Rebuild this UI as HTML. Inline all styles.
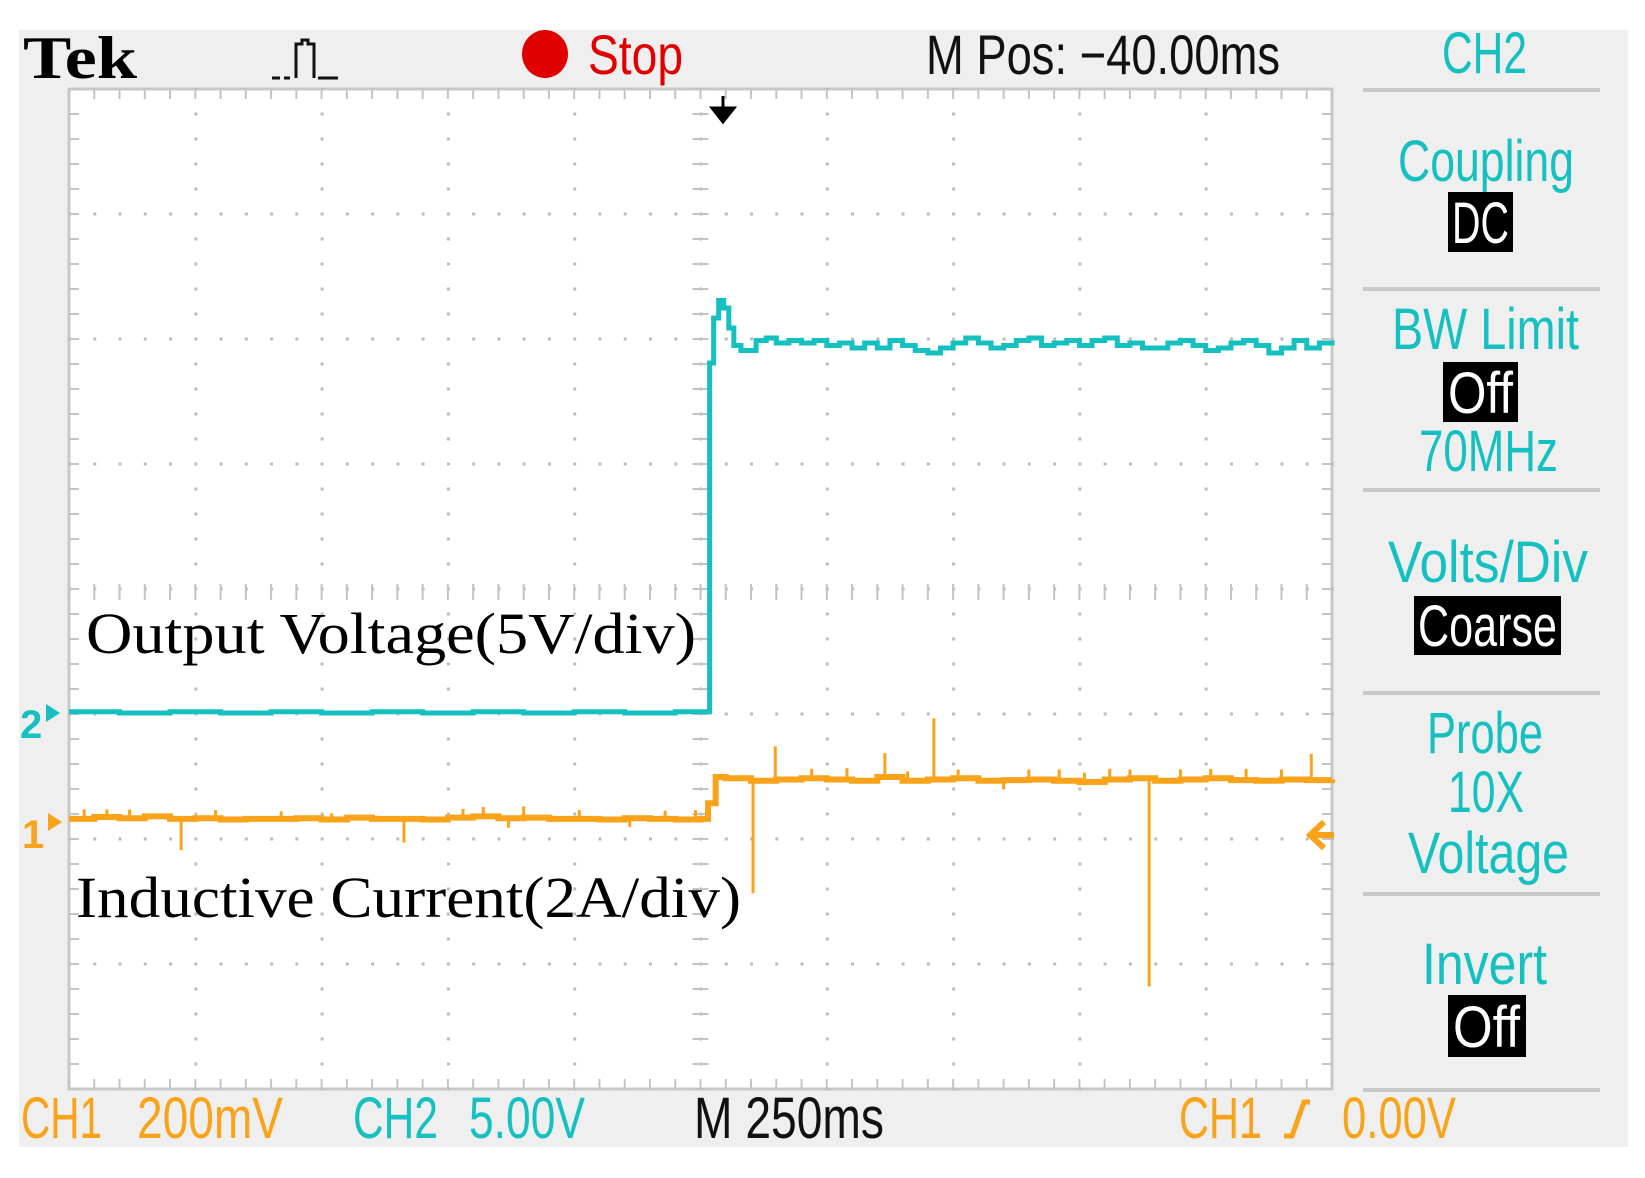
<!DOCTYPE html>
<html><head><meta charset="utf-8"><style>
html,body{margin:0;padding:0;background:#fff;}
svg{display:block;}
.t{font-family:"Liberation Sans",sans-serif;}
</style></head><body>
<svg id="scope" width="1645" height="1178" viewBox="0 0 1645 1178" xmlns="http://www.w3.org/2000/svg">
<rect x="19" y="30" width="1609" height="1117" fill="#efefef"/>
<rect x="69" y="89" width="1263" height="1000" fill="#fff" stroke="#c8c8c8" stroke-width="3"/>
<g id="grid"></g>
<g id="traces"></g>
<text x="23" y="78" font-family="Liberation Serif,serif" font-weight="bold" font-size="60" textLength="114" lengthAdjust="spacingAndGlyphs">Tek</text>
<path d="M272 78 h8 M284 78 h6 M296 78 v-34 h6 v-4 h6 v4 h6 v34 M318 78 h20" stroke="#111" stroke-width="3" fill="none"/>
<ellipse cx="545" cy="54" rx="23" ry="24" fill="#e00000"/>
<text class="t" x="588" y="74" font-size="56" fill="#e00000" textLength="95" lengthAdjust="spacingAndGlyphs">Stop</text>
<text class="t" x="926" y="74" font-size="56" fill="#111" textLength="354" lengthAdjust="spacingAndGlyphs">M Pos: −40.00ms</text>
<path d="M723 96 v18 M712 108 l11 14 l11 -14 z" stroke="#000" stroke-width="3" fill="#000"/>
<g id="panel">
<g stroke="#c8c8c8" stroke-width="4">
<line x1="1363" x2="1600" y1="90" y2="90"/><line x1="1363" x2="1600" y1="289" y2="289"/><line x1="1363" x2="1600" y1="490" y2="490"/><line x1="1363" x2="1600" y1="693" y2="693"/><line x1="1363" x2="1600" y1="894" y2="894"/><line x1="1363" x2="1600" y1="1090" y2="1090"/>
</g>
<text class="t" x="1442" y="73" font-size="58" fill="#14c0c0" textLength="85" lengthAdjust="spacingAndGlyphs">CH2</text>
<text class="t" x="1398" y="181" font-size="58" fill="#14c0c0" textLength="176" lengthAdjust="spacingAndGlyphs">Coupling</text>
<rect x="1448" y="192" width="65" height="60" fill="#000"/>
<text class="t" x="1452" y="243" font-size="58" fill="#fff" textLength="57" lengthAdjust="spacingAndGlyphs">DC</text>
<text class="t" x="1392" y="349" font-size="58" fill="#14c0c0" textLength="187" lengthAdjust="spacingAndGlyphs">BW Limit</text>
<rect x="1443" y="362" width="75" height="60" fill="#000"/>
<text class="t" x="1448" y="413" font-size="58" fill="#fff" textLength="65" lengthAdjust="spacingAndGlyphs">Off</text>
<text class="t" x="1419" y="471" font-size="58" fill="#14c0c0" textLength="139" lengthAdjust="spacingAndGlyphs">70MHz</text>
<text class="t" x="1388" y="582" font-size="58" fill="#14c0c0" textLength="200" lengthAdjust="spacingAndGlyphs">Volts/Div</text>
<rect x="1414" y="596" width="147" height="59" fill="#000"/>
<text class="t" x="1418" y="646" font-size="58" fill="#fff" textLength="139" lengthAdjust="spacingAndGlyphs">Coarse</text>
<text class="t" x="1427" y="753" font-size="58" fill="#14c0c0" textLength="116" lengthAdjust="spacingAndGlyphs">Probe</text>
<text class="t" x="1448" y="812" font-size="58" fill="#14c0c0" textLength="76" lengthAdjust="spacingAndGlyphs">10X</text>
<text class="t" x="1408" y="873" font-size="58" fill="#14c0c0" textLength="161" lengthAdjust="spacingAndGlyphs">Voltage</text>
<text class="t" x="1422" y="984" font-size="58" fill="#14c0c0" textLength="125" lengthAdjust="spacingAndGlyphs">Invert</text>
<rect x="1448" y="995" width="78" height="62" fill="#000"/>
<text class="t" x="1453" y="1047" font-size="58" fill="#fff" textLength="67" lengthAdjust="spacingAndGlyphs">Off</text>
</g>
<g>
<text class="t" x="21" y="1138" font-size="58" fill="#f9a31a" textLength="81" lengthAdjust="spacingAndGlyphs">CH1</text>
<text class="t" x="137" y="1138" font-size="58" fill="#f9a31a" textLength="146" lengthAdjust="spacingAndGlyphs">200mV</text>
<text class="t" x="353" y="1138" font-size="58" fill="#14c0c0" textLength="85" lengthAdjust="spacingAndGlyphs">CH2</text>
<text class="t" x="469" y="1138" font-size="58" fill="#14c0c0" textLength="116" lengthAdjust="spacingAndGlyphs">5.00V</text>
<text class="t" x="694" y="1138" font-size="58" fill="#111" textLength="190" lengthAdjust="spacingAndGlyphs">M 250ms</text>
<text class="t" x="1179" y="1138" font-size="58" fill="#f9a31a" textLength="83" lengthAdjust="spacingAndGlyphs">CH1</text>
<path d="M1284 1136 h8 l12 -34 h6" stroke="#f9a31a" stroke-width="5" fill="none"/>
<text class="t" x="1342" y="1138" font-size="58" fill="#f9a31a" textLength="114" lengthAdjust="spacingAndGlyphs">0.00V</text>
</g>
<text x="86" y="653" font-family="Liberation Serif,serif" font-size="58" fill="#000" textLength="610" lengthAdjust="spacingAndGlyphs">Output Voltage(5V/div)</text>
<text x="76" y="917" font-family="Liberation Serif,serif" font-size="58" fill="#000" textLength="665" lengthAdjust="spacingAndGlyphs">Inductive Current(2A/div)</text>
<text class="t" x="20" y="738" font-size="40" font-weight="bold" fill="#14c0c0">2</text>
<path d="M46 704 l14 9 l-14 9 z" fill="#14c0c0"/>
<text class="t" x="22" y="848" font-size="40" font-weight="bold" fill="#f9a31a">1</text>
<path d="M48 813 l14 9 l-14 9 z" fill="#f9a31a"/>
<path d="M1334 835 h-22 M1324 822 l-14 13 l14 13" stroke="#f9a31a" stroke-width="6" fill="none"/>
</svg>
<script>
// time in ms (250 ms/div, 10 div), cyan volts (5 V/div), orange amps (2 A/div)
const ch2Times = [0,100,200,300,400,500,600,700,800,900,1000,1100,1200,1262,1268,1276,1286,1296,1306,1316,1330,1345,1360,1380,1400,1425,1450,1475,1500,1525,1550,1575,1600,1625,1650,1675,1700,1725,1750,1775,1800,1825,1850,1875,1900,1925,1950,1975,2000,2025,2050,2075,2100,2125,2150,2175,2200,2225,2250,2275,2300,2325,2350,2375,2400,2425,2450,2475,2500];
const ch2Volts = [0.05,0.0,0.05,0.0,0.05,0.0,0.05,0.0,0.05,0.0,0.05,0.0,0.05,0.05,14.0,15.8,16.5,16.2,15.4,14.7,14.5,14.5,14.9,15.0,14.8,14.9,14.8,14.9,14.7,14.8,14.6,14.8,14.6,14.9,14.7,14.5,14.4,14.6,14.8,15.0,14.8,14.6,14.7,14.9,15.0,14.7,14.8,14.9,14.7,14.9,15.0,14.7,14.8,14.6,14.6,14.8,14.9,14.7,14.5,14.6,14.8,14.9,14.7,14.4,14.6,14.9,14.6,14.8,14.7];
const ch1Times = [0,50,100,150,200,250,300,350,400,450,500,550,600,650,700,750,800,850,900,950,1000,1050,1100,1150,1200,1250,1265,1280,1300,1350,1400,1450,1500,1550,1600,1650,1700,1750,1800,1850,1900,1950,2000,2050,2100,2150,2200,2250,2300,2350,2400,2450,2500];
const ch1Amps = [0.05,0.08,0.06,0.09,0.05,0.06,0.04,0.05,0.05,0.06,0.04,0.07,0.05,0.05,0.04,0.07,0.09,0.06,0.07,0.05,0.05,0.04,0.06,0.05,0.04,0.05,0.3,0.72,0.70,0.66,0.68,0.7,0.68,0.66,0.72,0.66,0.68,0.7,0.66,0.67,0.68,0.66,0.64,0.68,0.70,0.66,0.68,0.70,0.67,0.66,0.68,0.67,0.68];
const spikeTimes = [30,75,120,222,290,420,520,663,780,820,870,900,1010,1110,1180,1240,1354,1398,1470,1540,1615,1660,1712,1760,1850,1900,1960,2010,2060,2100,2138,2200,2260,2330,2400,2459];
const spikeAmps = [0.15,0.12,0.14,-0.5,0.13,0.12,0.1,-0.38,0.14,0.15,-0.15,0.18,0.14,-0.14,0.13,0.15,-1.8,0.55,0.15,0.18,0.38,0.15,0.98,0.14,-0.15,0.16,0.18,0.15,0.17,0.14,-3.33,0.16,0.15,0.18,0.16,0.42];
const ch2Offset = 713, ch1Offset = 822;
const X0 = 69, X1 = 1332, TOTAL = 2500, DIV = 125;
const xs = t => X0 + (X1 - X0) * t / TOTAL;
const yV = v => ch2Offset - v / 5 * DIV;
const yA = a => ch1Offset - a / 2 * DIV;
const NS = 'http://www.w3.org/2000/svg';
const grid = document.getElementById('grid');
const traces = document.getElementById('traces');
function mk(tag, attrs, parent){const e=document.createElementNS(NS,tag);for(const k in attrs)e.setAttribute(k,attrs[k]);parent.appendChild(e);return e;}
const divW = (X1-X0)/10;
let d = '';
for (let i=1;i<10;i++){ const x=X0+i*divW; for(let j=0;j<=40;j++){ const y=89+j*DIV/5; d+=`M${x-1} ${y}h3`; } }
for (let j=1;j<8;j++){ const y=89+j*DIV; for(let i=0;i<=50;i++){ const x=X0+i*divW/5; d+=`M${x-1} ${y}h3`; } }
const dots = mk('path',{d:d,stroke:'#bdbdbd','stroke-width':3,fill:'none'},grid);


let tk = '';
for (let i=0;i<=50;i++){ const x=X0+i*divW/5; tk+=`M${x} 89v10M${x} 1089v-10M${x} 584v16`; }
for (let j=0;j<=40;j++){ const y=89+j*DIV/5; tk+=`M${X0} ${y}h10M${X1} ${y}h-10M${X0+5*divW-8} ${y}h16`; }
const ticks = mk('path',{d:tk,stroke:'#c4c4c4','stroke-width':2,fill:'none'},grid);


function stepPath(T,V,fy){ let p=`M${xs(T[0])} ${fy(V[0])}`; for(let i=1;i<T.length;i++){ p+=`H${xs(T[i])}V${fy(V[i])}`; } return p; }
const c2 = mk('path',{d:stepPath(ch2Times,ch2Volts,yV),stroke:'#14c0c0','stroke-width':5,fill:'none'},traces);


const c1 = mk('path',{d:stepPath(ch1Times,ch1Amps,yA),stroke:'#f9a31a','stroke-width':6,fill:'none'},traces);


spikeTimes.forEach((t,i)=>{
  let base = 0.05; for(let k=0;k<ch1Times.length;k++){ if(ch1Times[k]<=t) base=ch1Amps[k]; }
  const s = mk('line',{x1:xs(t),x2:xs(t),y1:yA(base),y2:yA(base+spikeAmps[i]),stroke:'#f9a31a','stroke-width':3},traces);
  
  
});
</script>
</body></html>
